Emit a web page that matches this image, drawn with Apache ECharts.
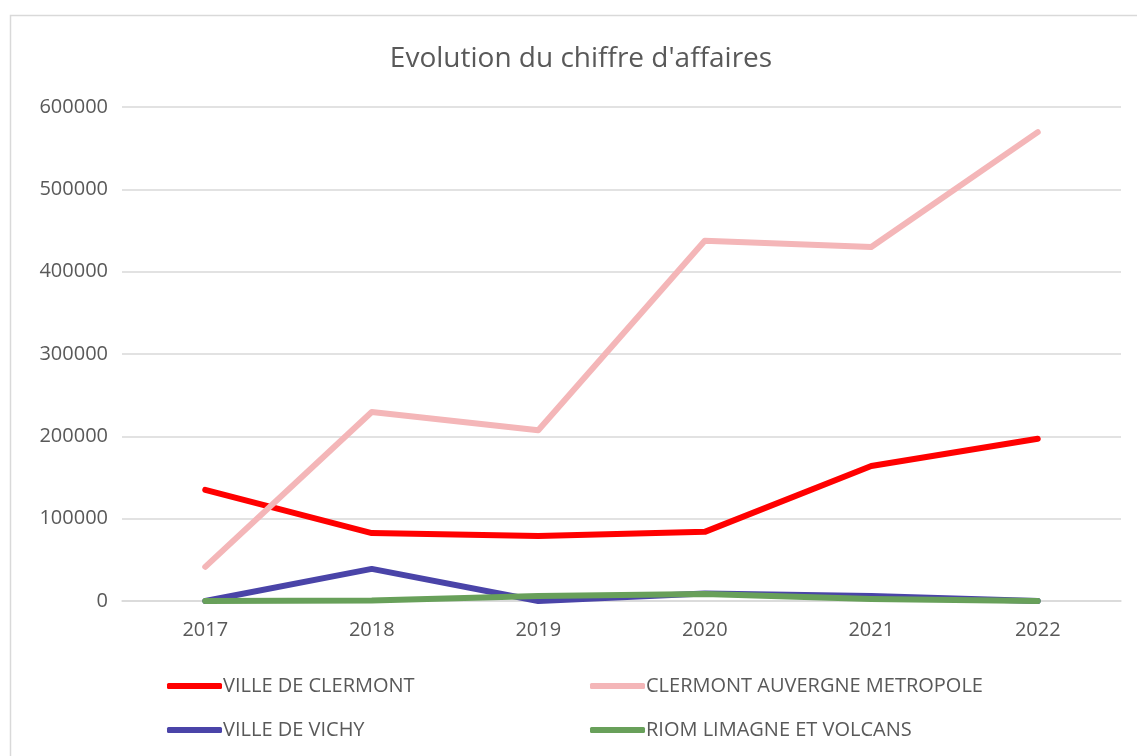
<!DOCTYPE html>
<html>
<head>
<meta charset="utf-8">
<script src="https://cdn.jsdelivr.net/npm/echarts@6/dist/echarts.min.js"></script>
<style>
  html, body { margin: 0; padding: 0; background: #fff; }
  #main { width: 1137px; height: 756px; }
</style>
</head>
<body>
<div id="main"></div>
<script>
var years = ['2017', '2018', '2019', '2020', '2021', '2022'];
var villeClermont = [135000, 82500, 79000, 84000, 164000, 197000];
var clermontMetropole = [41500, 229500, 207500, 437500, 430000, 569500];
var villeVichy = [0, 39000, 0, 9000, 6000, 0];
var riomLimagne = [0, 500, 6000, 8500, 2500, 0];
var seriesNames = ['VILLE DE CLERMONT', 'CLERMONT AUVERGNE METROPOLE', 'VILLE DE VICHY', 'RIOM LIMAGNE ET VOLCANS'];
var colors = ['#ff0000', '#f4b6b8', '#4a44a8', '#68a05a'];

var font = 'Open Sans';
var chart = echarts.init(document.getElementById('main'));

function makeLine(name, data, color) {
  return {
    name: name,
    type: 'line',
    data: data,
    symbol: 'none',
    color: color,
    lineStyle: { width: 6, color: color, cap: 'round', join: 'round' }
  };
}

var legendPos = [[162, 671], [585, 671], [162, 715], [585, 715]];
var legends = seriesNames.map(function (n, i) {
  return {
    data: [n],
    left: legendPos[i][0],
    top: legendPos[i][1],
    icon: 'roundRect',
    itemWidth: 55,
    itemHeight: 6,
    itemGap: 4,
    textStyle: { fontFamily: font, fontSize: 20, color: '#595959', padding: [0, 0, 0, -4] }
  };
});

var option = {
  animation: false,
  backgroundColor: '#fff',
  title: {
    text: "Evolution du chiffre d'affaires",
    left: 576,
    top: 40,
    textAlign: 'center',
    textStyle: { fontFamily: font, fontSize: 28, fontWeight: 'normal', color: '#595959' }
  },
  graphic: [{
    type: 'rect',
    shape: { x: 10.5, y: 15.5, width: 1200, height: 800 },
    style: { fill: 'none', stroke: '#d9d9d9', lineWidth: 1.5 },
    silent: true,
    z: -1
  }],
  legend: legends,
  grid: { left: 122, right: 16, top: 107, bottom: 155 },
  xAxis: {
    type: 'category',
    data: years,
    boundaryGap: true,
    axisLine: { lineStyle: { color: '#d9d9d9', width: 1.5 } },
    axisTick: { show: false },
    axisLabel: { fontFamily: font, fontSize: 20, color: '#595959', margin: 19 }
  },
  yAxis: {
    type: 'value',
    min: 0,
    max: 600000,
    interval: 100000,
    axisLine: { show: false },
    axisTick: { show: false },
    axisLabel: {
      fontFamily: font, fontSize: 20, color: '#595959', margin: 14,
      formatter: function (v) { return String(v); }
    },
    splitLine: { lineStyle: { color: '#d9d9d9', width: 1.5 } }
  },
  series: [
    makeLine(seriesNames[0], villeClermont, colors[0]),
    makeLine(seriesNames[1], clermontMetropole, colors[1]),
    makeLine(seriesNames[2], villeVichy, colors[2]),
    makeLine(seriesNames[3], riomLimagne, colors[3])
  ]
};
chart.setOption(option);
</script>
</body>
</html>
